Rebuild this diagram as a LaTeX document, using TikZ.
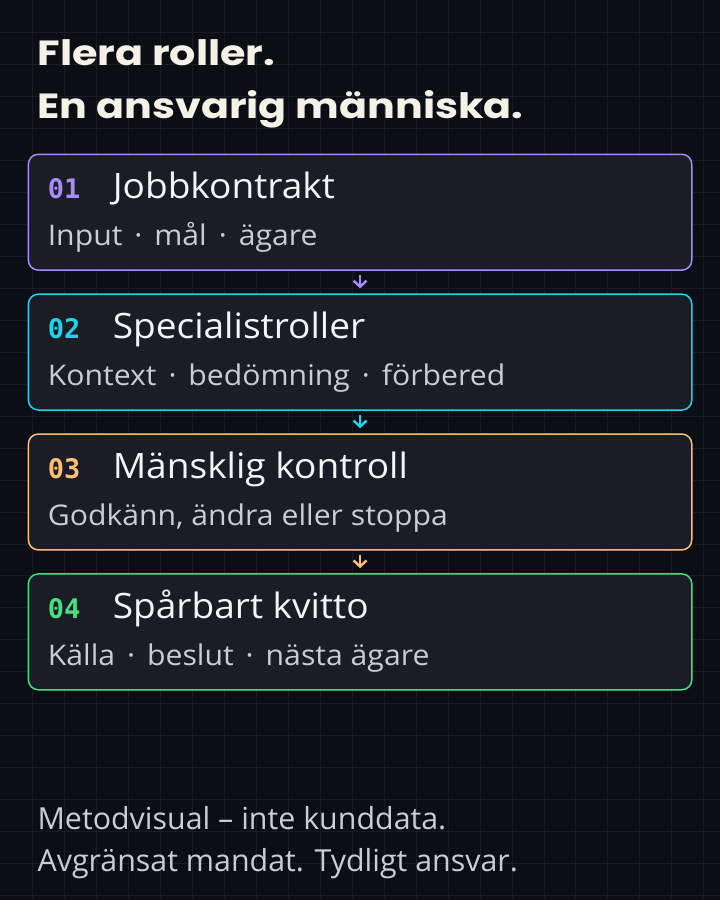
\documentclass[tikz,border=0pt]{standalone}
\usepackage{fontspec}
\setmainfont{Open Sans}[FakeStretch=1.06]
\newfontfamily\headfont{Poppins}[FakeStretch=1.18]
\newfontfamily\numfont{DejaVu Sans Mono}
\newfontfamily\footfont{Open Sans}
\usepackage{xcolor}
\usepackage{tikz}
\usetikzlibrary{positioning,calc,arrows.meta}

\definecolor{bgcol}{HTML}{0B0E14}
\definecolor{gridcol}{HTML}{181C24}
\definecolor{cardbg}{HTML}{1A1D25}
\definecolor{titletxt}{HTML}{F6F1E7}
\definecolor{headtxt}{HTML}{F3F4F6}
\definecolor{subtxt}{HTML}{C9CDD5}
\definecolor{footcol}{HTML}{C9CDD5}
\definecolor{purplec}{HTML}{A78BFA}
\definecolor{cyanc}{HTML}{22D3EE}
\definecolor{orangec}{HTML}{FBBF74}
\definecolor{greenc}{HTML}{4ADE80}

\newcommand{\midsep}{\hspace{0.42em}·\hspace{0.42em}}

\begin{document}
\begin{tikzpicture}[
    x=1pt, y=-1pt,
    card/.style={rectangle, rounded corners=10pt, fill=cardbg, line width=1.5pt, minimum width=664pt, minimum height=116pt, inner sep=0pt},
    num/.style={anchor=base west, inner sep=0pt, font=\numfont\bfseries\fontsize{27}{32}\selectfont},
    head/.style={anchor=base west, inner sep=0pt, text=headtxt, font=\fontsize{35}{40}\selectfont},
    sub/.style={anchor=base west, inner sep=0pt, text=subtxt, font=\fontsize{28.5}{34}\selectfont},
    big/.style={anchor=base west, inner sep=0pt, text=titletxt, font=\headfont\bfseries\fontsize{35}{42}\selectfont},
    foot/.style={anchor=base west, inner sep=0pt, text=footcol, font=\footfont\fontsize{30.4}{36}\selectfont},
    flow/.style={-{Straight Barb[length=6pt,width=13pt]}, line width=2.5pt, shorten <=4pt, shorten >=5pt},
    gridline/.style={draw=gridcol, line width=0.8pt}
]

% Background
\fill[bgcol] (0,0) rectangle (720,900);
\foreach \i in {1,...,22} \draw[gridline] (\i*32,0) -- (\i*32,900);
\foreach \j in {1,...,28} \draw[gridline] (0,\j*32) -- (720,\j*32);

% Title
\node[big] (title1) at (37,65) {Flera roller.};
\node[big] (title2) at (37,118) {En ansvarig människa.};

% 01 Jobbkontrakt
\node[card, draw=purplec] (c1) at (360,212) {};
\node[num, text=purplec] (n1) at ($(c1.north west)+(20,45)$) {01};
\node[head] (h1) at ($(c1.north west)+(85,45)$) {Jobbkontrakt};
\node[sub] (s1) at ($(c1.north west)+(20,92)$) {Input\midsep mål\midsep ägare};

% 02 Specialistroller
\node[card, draw=cyanc] (c2) at (360,352) {};
\node[num, text=cyanc] (n2) at ($(c2.north west)+(20,45)$) {02};
\node[head] (h2) at ($(c2.north west)+(85,45)$) {Specialistroller};
\node[sub] (s2) at ($(c2.north west)+(20,92)$) {Kontext\midsep bedömning\midsep förbered};

\draw[flow, purplec] (c1.south) -- (c2.north);

% 03 Mänsklig kontroll
\node[card, draw=orangec] (c3) at (360,492) {};
\node[num, text=orangec] (n3) at ($(c3.north west)+(20,45)$) {03};
\node[head] (h3) at ($(c3.north west)+(85,45)$) {Mänsklig kontroll};
\node[sub] (s3) at ($(c3.north west)+(20,92)$) {Godkänn, ändra eller stoppa};

\draw[flow, cyanc] (c2.south) -- (c3.north);

% 04 Spårbart kvitto
\node[card, draw=greenc] (c4) at (360,632) {};
\node[num, text=greenc] (n4) at ($(c4.north west)+(20,45)$) {04};
\node[head] (h4) at ($(c4.north west)+(85,45)$) {Spårbart kvitto};
\node[sub] (s4) at ($(c4.north west)+(20,92)$) {Källa\midsep beslut\midsep nästa ägare};

\draw[flow, orangec] (c3.south) -- (c4.north);

% Footer
\node[foot] (foot1) at (37,830) {Metodvisual – inte kunddata.};
\node[foot] (foot2) at (37,872) {Avgränsat mandat. Tydligt ansvar.};

\end{tikzpicture}
\end{document}
